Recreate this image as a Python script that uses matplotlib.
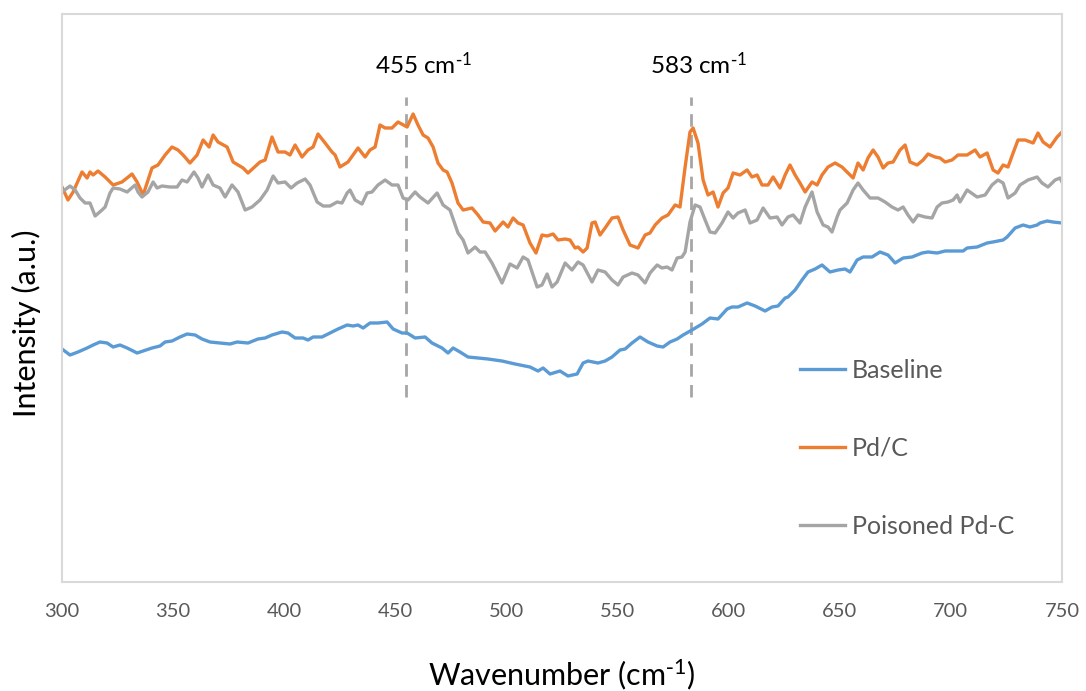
import matplotlib
matplotlib.use("Agg")
import matplotlib.pyplot as plt

plt.rcParams['font.family'] = ['Lato', 'DejaVu Sans']
plt.rcParams['mathtext.default'] = 'regular'

# ---- data ----
pdc_wn = [300.0, 302.7, 305.0, 309.0, 311.3, 312.6, 314.0, 316.2, 319.4, 323.0, 327.0, 331.5, 333.8, 336.5,
          340.5, 343.2, 346.4, 349.5, 352.2, 354.5, 357.6, 360.8, 363.5, 366.2, 368.0, 370.2, 374.3, 377.0,
          381.5, 383.7, 389.1, 391.4, 394.5, 397.2, 400.4, 402.6, 404.9, 408.0, 410.7, 413.0, 415.2, 418.4,
          421.5, 422.9, 425.1, 428.7, 433.2, 436.4, 438.6, 440.9, 443.1, 445.4, 448.5, 451.2, 455.3, 458.0,
          460.2, 462.5, 464.7, 467.0, 469.2, 471.5, 473.3, 475.5, 478.2, 480.5, 484.5, 487.2, 489.5, 492.6,
          494.9, 498.5, 500.7, 503.0, 505.2, 507.5, 510.6, 513.3, 516.0, 518.3, 521.0, 523.2, 526.4, 528.6,
          530.9, 532.2, 534.5, 536.3, 538.5, 539.9, 542.1, 544.4, 547.5, 550.2, 552.5, 555.6, 559.2, 562.4,
          564.6, 566.9, 570.0, 572.7, 575.9, 578.1, 580.4, 582.6, 584.0, 586.2, 588.5, 590.7, 593.0, 595.2,
          597.5, 599.7, 602.0, 605.1, 608.3, 610.5, 612.8, 615.0, 617.7, 620.0, 623.1, 625.4, 627.6, 629.9,
          632.1, 634.4, 637.5, 639.8, 642.0, 644.7, 647.9, 651.0, 653.3, 656.0, 658.2, 660.5, 662.7, 665.0,
          667.2, 669.5, 671.7, 674.0, 677.1, 679.4, 681.6, 684.8, 687.5, 689.7, 692.9, 695.1, 697.4, 700.5,
          703.2, 707.3, 710.9, 713.1, 716.3, 719.0, 721.2, 723.5, 725.7, 728.0, 730.2, 733.4, 737.0, 739.2,
          741.5, 744.6, 747.8, 750.0]
pdc_int = [395, 382, 390, 410, 404, 410, 407, 411, 405, 397, 400, 408, 400, 387,
           414, 417, 427, 435, 432, 427, 419, 427, 442, 435, 447, 440, 435, 420,
           414, 409, 420, 422, 445, 430, 430, 427, 437, 425, 432, 435, 448, 439,
           430, 427, 415, 420, 434, 425, 432, 435, 457, 454, 454, 460, 455, 468,
           457, 447, 444, 435, 419, 412, 410, 399, 379, 372, 374, 367, 360, 359,
           351, 360, 355, 364, 359, 357, 339, 329, 347, 346, 348, 342, 343, 342,
           334, 335, 330, 334, 359, 360, 347, 354, 364, 365, 352, 337, 334, 347,
           349, 357, 364, 367, 377, 375, 415, 450, 454, 439, 402, 387, 390, 375,
           389, 394, 409, 407, 412, 405, 407, 397, 397, 405, 394, 407, 417, 407,
           399, 390, 400, 397, 407, 415, 419, 415, 410, 404, 419, 412, 424, 432,
           425, 414, 419, 420, 432, 437, 420, 417, 422, 428, 425, 424, 420, 422,
           427, 427, 432, 425, 429, 412, 409, 417, 415, 429, 442, 442, 439, 449,
           440, 435, 445, 450]

poisoned_wn = [300.0, 303.6, 305.9, 308.1, 310.4, 312.6, 314.9, 318.0, 319.4, 321.6, 323.0, 326.1, 329.3,
               332.9, 334.2, 336.0, 338.7, 341.0, 342.8, 345.0, 348.6, 351.8, 354.0, 356.3, 359.4, 361.2,
               363.0, 365.7, 368.0, 371.1, 373.4, 376.5, 379.2, 382.4, 385.5, 389.1, 392.3, 395.0, 397.2,
               400.4, 403.1, 405.8, 409.4, 411.6, 414.8, 417.5, 420.6, 423.8, 426.0, 428.3, 429.6, 431.9,
               435.0, 437.3, 439.5, 442.2, 445.4, 448.5, 451.2, 453.5, 455.7, 458.9, 461.1, 464.7, 468.8,
               471.5, 474.6, 478.2, 480.5, 482.7, 485.9, 488.1, 490.4, 493.5, 498.0, 501.6, 504.8, 507.5,
               509.7, 513.8, 516.0, 518.3, 520.5, 522.8, 526.4, 529.5, 532.2, 534.5, 538.5, 541.2, 544.4,
               547.5, 550.2, 552.5, 556.5, 559.2, 562.4, 564.6, 567.8, 570.0, 572.3, 574.5, 576.8, 579.0,
               580.4, 582.6, 584.9, 587.1, 589.4, 591.6, 593.9, 597.0, 599.7, 602.0, 604.2, 607.4, 609.6,
               612.8, 615.5, 618.6, 621.8, 624.0, 626.7, 629.0, 632.1, 634.4, 637.5, 639.8, 642.5, 644.7,
               646.5, 648.8, 650.1, 653.3, 656.0, 658.2, 660.5, 663.6, 667.2, 670.4, 673.5, 676.2, 678.5,
               680.7, 683.0, 685.2, 688.4, 691.5, 693.8, 696.0, 698.7, 701.0, 702.8, 704.1, 707.3, 711.8,
               715.4, 718.5, 721.2, 723.5, 725.7, 728.9, 731.1, 734.7, 738.8, 741.0, 743.7, 746.9, 749.1,
               750.0]
poisoned_int = [390, 396, 392, 384, 379, 379, 366, 372, 375, 389, 394, 393, 390,
                397, 390, 385, 390, 400, 394, 396, 395, 395, 402, 400, 410, 404,
                395, 407, 397, 394, 385, 397, 390, 372, 375, 382, 392, 406, 399,
                400, 394, 399, 403, 397, 380, 376, 376, 380, 379, 389, 392, 382,
                378, 389, 390, 397, 402, 397, 397, 384, 382, 390, 385, 379, 389,
                377, 372, 349, 342, 329, 335, 330, 330, 319, 299, 318, 314, 325,
                322, 295, 297, 308, 295, 300, 319, 312, 320, 317, 300, 312, 310,
                302, 297, 305, 309, 307, 299, 309, 317, 314, 315, 312, 324, 325,
                330, 360, 377, 375, 362, 350, 349, 359, 370, 364, 369, 372, 359,
                362, 374, 364, 365, 357, 365, 367, 359, 375, 390, 370, 357, 355,
                350, 365, 372, 379, 392, 399, 392, 384, 384, 380, 375, 372, 375,
                367, 360, 367, 365, 364, 375, 379, 380, 382, 387, 380, 392, 385,
                387, 397, 402, 399, 384, 389, 397, 402, 405, 399, 395, 402, 404,
                400]

baseline_wn = [300.0, 303.6, 307.2, 311.3, 314.0, 317.1, 320.3, 323.0, 326.1, 329.3, 333.8, 336.5, 340.5,
               344.1, 346.4, 349.5, 353.1, 356.3, 359.9, 363.0, 366.6, 371.1, 375.6, 378.8, 383.7, 388.2,
               391.4, 394.5, 399.0, 401.7, 404.9, 408.5, 410.7, 413.0, 417.0, 420.6, 424.2, 428.3, 431.0,
               433.2, 435.5, 438.6, 442.2, 446.3, 449.0, 453.0, 455.3, 458.9, 463.4, 466.5, 471.0, 473.7,
               476.0, 479.1, 482.7, 487.2, 491.7, 498.0, 503.9, 510.6, 514.2, 516.5, 519.6, 524.1, 527.7,
               531.8, 534.5, 536.7, 541.2, 544.4, 547.5, 551.1, 553.4, 556.5, 560.1, 563.7, 567.8, 570.5,
               573.6, 576.8, 579.5, 583.5, 588.0, 591.6, 595.2, 599.3, 601.5, 604.2, 608.3, 611.9, 616.4,
               619.5, 622.2, 625.4, 626.7, 629.9, 633.0, 635.7, 638.9, 642.0, 645.6, 649.2, 652.4, 654.6,
               657.8, 660.5, 664.5, 668.1, 671.7, 674.9, 678.5, 682.5, 687.0, 689.7, 693.8, 697.4, 701.9,
               705.5, 707.3, 711.8, 716.3, 718.9, 723.5, 725.3, 728.9, 732.5, 735.6, 738.8, 740.1, 743.3,
               745.9, 750.0]
baseline_int = [233, 227, 230, 234, 237, 240, 239, 235, 237, 234, 229, 231, 234,
                236, 240, 241, 245, 248, 247, 243, 240, 239, 238, 240, 239, 243,
                244, 247, 250, 249, 244, 244, 242, 245, 245, 249, 253, 257, 256,
                257, 254, 259, 259, 260, 253, 249, 249, 244, 245, 239, 234, 229,
                234, 230, 225, 224, 223, 221, 218, 215, 211, 214, 208, 211, 206,
                208, 219, 221, 219, 221, 225, 232, 233, 239, 245, 240, 236, 235,
                240, 243, 247, 252, 258, 264, 263, 273, 275, 275, 279, 276, 271,
                275, 276, 284, 285, 292, 302, 310, 313, 317, 310, 312, 313, 310,
                322, 325, 325, 330, 327, 319, 324, 325, 329, 330, 329, 331, 331,
                331, 334, 335, 339, 340, 342, 345, 354, 357, 355, 357, 359, 361,
                360, 359]

series_labels = ["Baseline", "Pd/C", "Poisoned Pd-C"]
peak_positions = [455, 583]
peak_label_x = [462.5, 586.2]
peak_labels = ["455 cm$^{\\text{-}1}$", "583 cm$^{\\text{-}1}$"]
xticks = [300, 350, 400, 450, 500, 550, 600, 650, 700, 750]

# ---- styling ----
c_blue = "#5b9bd5"
c_orange = "#ed7d31"
c_gray = "#a5a5a5"
txt_gray = "#595959"

fig = plt.figure(figsize=(10.86, 6.91), dpi=100)
ax = fig.add_axes([62/1086, 1 - 582/691, 1000/1086, 568/691])

lw = 2.4
ax.plot(baseline_wn, baseline_int, color=c_blue, lw=lw, label=series_labels[0], solid_joinstyle='round')
ax.plot(pdc_wn, pdc_int, color=c_orange, lw=lw, label=series_labels[1], solid_joinstyle='round')
ax.plot(poisoned_wn, poisoned_int, color=c_gray, lw=lw, label=series_labels[2], solid_joinstyle='round')

for pos, lx, lab in zip(peak_positions, peak_label_x, peak_labels):
    ax.plot([pos, pos], [185, 485], color="#a6a6a6", lw=2.0, ls=(0, (4.5, 3)), zorder=1)
    ax.text(lx, 517, lab, ha='center', va='center', fontsize=17.5, color="black")

ax.set_xlim(300, 750)
ax.set_ylim(0, 568)
ax.set_xticks(xticks)
ax.set_yticks([])
ax.tick_params(axis='x', length=0, pad=15, labelsize=14.5, labelcolor=txt_gray)
for s in ax.spines.values():
    s.set_color("#d9d9d9")
    s.set_linewidth(1.5)

ax.set_xlabel("Wavenumber (cm$^{\\text{-}1}$)", fontsize=22, color="black", labelpad=27)
ax.set_ylabel("Intensity (a.u.)", fontsize=22, color="black")
ax.yaxis.set_label_coords(-0.021, 0.456)

leg = ax.legend(loc='upper left', bbox_to_anchor=(0.738, 0.393), frameon=False,
                fontsize=18, labelspacing=2.2, handlelength=1.8, handletextpad=0.28,
                borderpad=0, borderaxespad=0)
for t in leg.get_texts():
    t.set_color(txt_gray)

fig.savefig("out.png", dpi=100)
